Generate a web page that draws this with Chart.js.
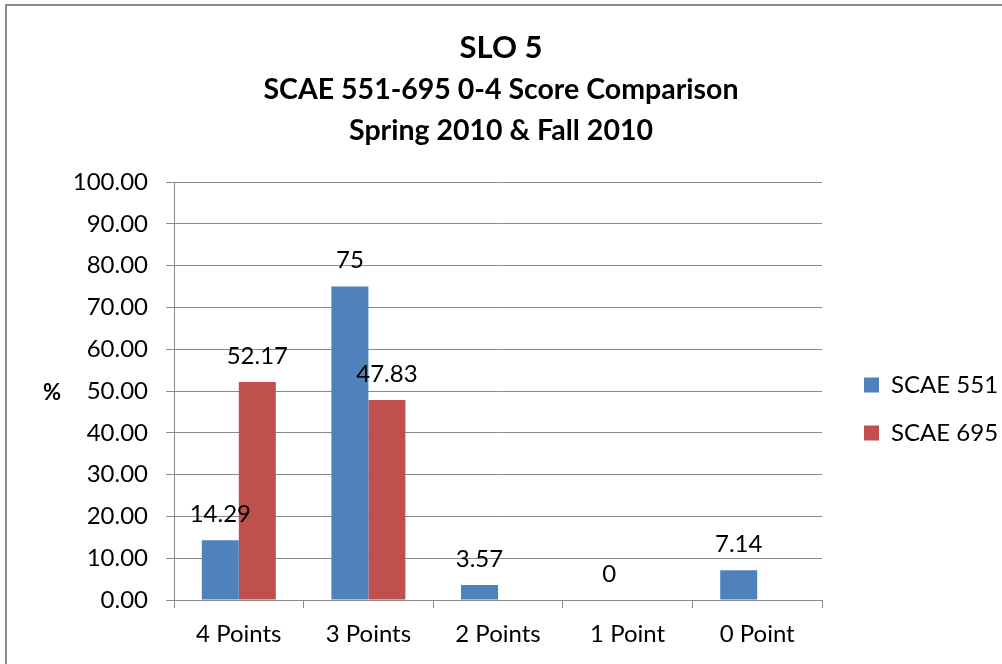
<!DOCTYPE html>
<html>
<head>
<meta charset="utf-8">
<script src="https://cdn.jsdelivr.net/npm/chart.js@4.4.1/dist/chart.umd.min.js"></script>
<style>
  html, body { margin: 0; padding: 0; background: #fff; }
  #wrap { position: relative; width: 1002px; height: 664px; overflow: hidden; }
  #frame { position: absolute; left: 5px; top: 4px; width: 1100px; height: 800px;
           border-left: 2px solid #8c8c8c; border-top: 2px solid #8c8c8c; }
  canvas { position: absolute; left: 0; top: 0; }
</style>
</head>
<body>
<div id="wrap">
  <div id="frame"></div>
  <canvas id="chart" width="1002" height="664"></canvas>
</div>
<script>
// Data
const categories = ['4 Points', '3 Points', '2 Points', '1 Point', '0 Point'];
const scae551 = [14.29, 75, 3.57, 0, 7.14];
const scae695 = [52.17, 47.83, null, null, null];
const seriesNames = ['SCAE 551', 'SCAE 695'];

const FONT = 'Lato, "Open Sans", sans-serif';
const GRID = '#8a8a8a';

// Value labels above the bars
const barLabels = {
    id: 'barLabels',
    afterDatasetsDraw(chart) {
        const ctx = chart.ctx;
        ctx.save();
        ctx.font = `24px ${FONT}`;
        ctx.fillStyle = '#000';
        ctx.textAlign = 'center';
        ctx.textBaseline = 'middle';
        chart.data.datasets.forEach((ds, i) => {
            chart.getDatasetMeta(i).data.forEach((bar, j) => {
                if (ds.data[j] === null) return;
                ctx.fillText(String(ds.data[j]), bar.x, bar.y - 26);
            });
        });
        ctx.restore();
    }
};

// "%" axis label, kept horizontal
const percentLabel = {
    id: 'percentLabel',
    afterDraw(chart) {
        const { ctx, chartArea } = chart;
        ctx.save();
        ctx.font = `bold 22px ${FONT}`;
        ctx.fillStyle = '#000';
        ctx.textAlign = 'center';
        ctx.textBaseline = 'middle';
        ctx.fillText('%', chartArea.left - 122, (chartArea.top + chartArea.bottom) / 2 + 2);
        ctx.restore();
    }
};

new Chart(document.getElementById('chart'), {
    type: 'bar',
    data: {
        labels: categories,
        datasets: [
            { label: seriesNames[0], data: scae551, backgroundColor: '#4f81bd' },
            { label: seriesNames[1], data: scae695, backgroundColor: '#c0504d' }
        ]
    },
    options: {
        responsive: false,
        animation: false,
        devicePixelRatio: 1,
        datasets: { bar: { categoryPercentage: 0.571, barPercentage: 1 } },
        layout: { padding: 0 },
        scales: {
            x: {
                grid: { offset: true, drawOnChartArea: false, color: GRID, tickLength: 8 },
                border: { color: GRID },
                ticks: { color: '#000', padding: 12, font: { family: FONT, size: 24 } },
                afterFit(s) { s.height = 64; }
            },
            y: {
                min: 0,
                max: 100,
                grid: { color: GRID, tickLength: 8 },
                border: { color: GRID },
                ticks: {
                    stepSize: 10,
                    color: '#000',
                    padding: 18,
                    font: { family: FONT, size: 24 },
                    callback: v => v.toFixed(2)
                },
                afterFit(s) { s.width = 174; }
            },
            gap: {
                type: 'linear',
                position: 'right',
                grid: { display: false },
                border: { display: false },
                ticks: { display: false },
                afterFit(s) { s.width = 18; }
            }
        },
        plugins: {
            title: {
                display: true,
                text: 'SLO 5',
                color: '#000',
                font: { family: FONT, size: 31, weight: 'bold', lineHeight: 1.2 },
                padding: { top: 29.4, bottom: 0 }
            },
            subtitle: {
                display: true,
                text: ['SCAE 551-695 0-4 Score Comparison', 'Spring 2010 & Fall 2010'],
                color: '#000',
                font: { family: FONT, size: 28.5, weight: 'bold', lineHeight: 41 / 28.5 },
                padding: { top: 2.9, bottom: 30.5 }
            },
            legend: {
                position: 'right',
                fullSize: false,
                maxWidth: 162,
                title: { display: true, text: '', font: { size: 10, lineHeight: 1 }, padding: 13 },
                labels: {
                    boxWidth: 15,
                    boxHeight: 15,
                    padding: 24,
                    color: '#000',
                    font: { family: FONT, size: 24 }
                }
            },
            tooltip: { enabled: false }
        }
    },
    plugins: [barLabels, percentLabel]
});
</script>
</body>
</html>
